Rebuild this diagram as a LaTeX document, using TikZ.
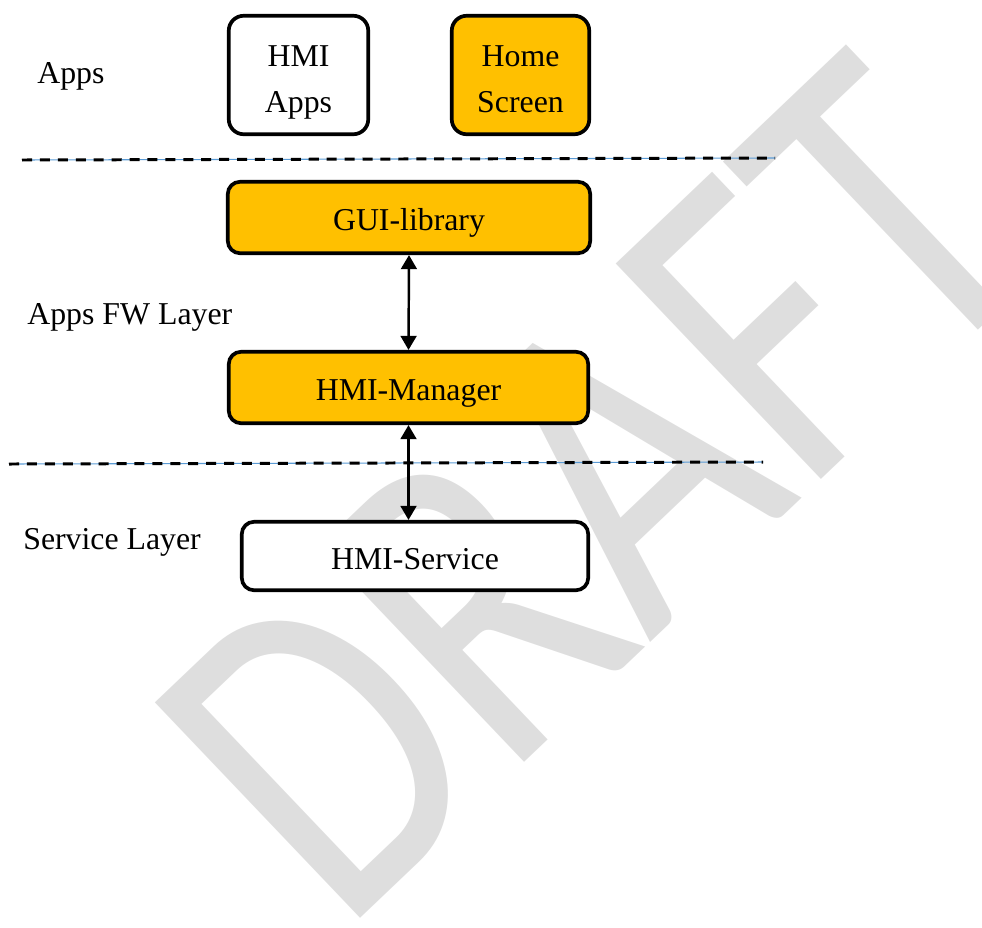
\documentclass[tikz,border=0pt]{standalone}
\usepackage{fontspec}
\setmainfont{Liberation Serif}
\newfontfamily\wmfont{Carlito}
\usepackage{xcolor}
\usepackage{tikz}
\usetikzlibrary{arrows.meta, positioning}
\definecolor{boxgold}{RGB}{255,192,0}
\definecolor{wmgray}{RGB}{222,222,222}
\definecolor{lineblue}{RGB}{91,155,213}

\begin{document}
\begin{tikzpicture}[x=0.02cm,y=-0.02cm]
        \useasboundingbox (0,0) rectangle (982,927);
        \node[text=wmgray,inner sep=0,rotate=43.6,xscale=0.79,font=\wmfont\fontsize{264pt}{264pt}\selectfont] (draft) at (596,489) {DRAFT};
        \coordinate (sepAl) at (22,160);
        \coordinate (sepAr) at (775,158);
        \coordinate (sepBl) at (9,464);
        \coordinate (sepBr) at (763,462);
        \begin{scope}[every path/.style={line cap=butt}]
          \draw[lineblue,line width=0.6pt] (sepAl) -- (sepAr);
          \draw[lineblue,line width=0.6pt] (sepBl) -- (sepBr);
          \draw[black,line width=1.7pt,dash pattern=on 5.7pt off 4.5pt] (sepAl) -- (sepAr);
          \draw[black,line width=1.7pt,dash pattern=on 5.7pt off 4.5pt] (sepBl) -- (sepBr);
        \end{scope}
        \begin{scope}[every node/.style={anchor=base west,inner sep=0,font=\fontsize{18.1pt}{26.6pt}\selectfont}]
          \node (lblapps) at (37,83) {Apps};
          \node (lblfw) at (27,324) {Apps FW Layer};
          \node (lblsvc) at (23,549) {Service Layer};
        \end{scope}
        \begin{scope}[every node/.style={draw=black,line width=2.1pt,rounded corners=7pt,inner sep=0,align=center,font=\fontsize{18.1pt}{26.6pt}\selectfont,text height=15.3pt,text depth=0pt}]
          \node[fill=white,rounded corners=8.5pt,minimum width=2.79cm,minimum height=2.37cm,text height=43pt] (hmiapps) at (298.5,75) {HMI\\Apps};
          \node[fill=boxgold,rounded corners=8.5pt,minimum width=2.75cm,minimum height=2.37cm,text height=43pt] (homescreen) at (520.5,75) {Home\\Screen};
          \node[fill=boxgold,minimum width=7.25cm,minimum height=1.43cm] (guilib) at (409,217.5) {GUI-library};
          \node[fill=boxgold,minimum width=7.19cm,minimum height=1.43cm] (hmimgr) at (408.5,387.5) {HMI-Manager};
          \node[fill=white,minimum width=6.93cm,minimum height=1.37cm] (hmisvc) at (415,556) {HMI-Service};
        \end{scope}
        \begin{scope}[every edge/.style={draw=black,line width=1.4pt,{Triangle[length=8pt,width=9pt]}-{Triangle[length=8pt,width=9pt]}}]
          \path (guilib.south) edge (hmimgr.north);
          \path (hmimgr.south) edge (hmimgr.south |- hmisvc.north);
        \end{scope}
      \end{tikzpicture}
\end{document}
